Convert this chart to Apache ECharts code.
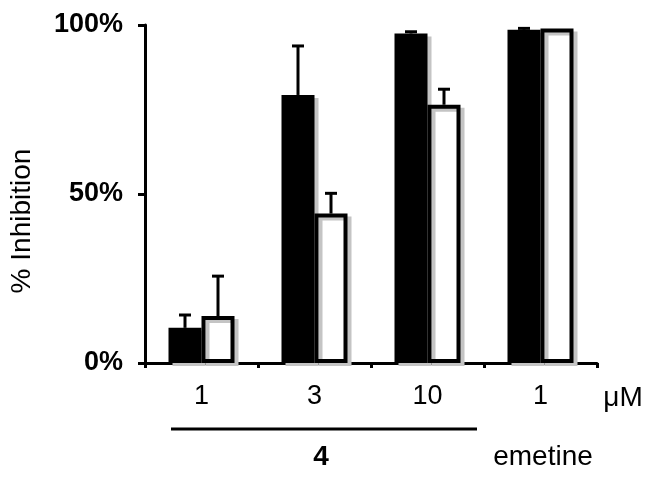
<!DOCTYPE html>
<html>
<head>
<meta charset="utf-8">
<script src="https://cdn.jsdelivr.net/npm/echarts@6/dist/echarts.min.js"></script>
<style>
html, body { margin: 0; padding: 0; background: #fff; }
#main { width: 651px; height: 477px; }
</style>
</head>
<body>
<div id="main"></div>
<script>
// inhibition chart, compound 4 vs emetine
var categories = ['1', '3', '10', '1']
var blackMean = [10.4, 79.3, 97.5, 98.6]
var blackErr = [3.8, 14.5, 0.5, 0.4]
var whiteMean = [13.9, 44.2, 76.4, 99.0]
var whiteErr = [11.8, 6.0, 4.6, 0]
var yTicks = [0, 50, 100]

var BAR_W = 33
var FONT = '"Liberation Sans", Arial'

function errData(mean, err) {
    return mean.map(function (m, i) { return [i, m + err[i], m, err[i]] })
}

function errRender(offset) {
    return function (params, api) {
        if (api.value(3) <= 0) return
        var top = api.coord([api.value(0), api.value(1)])
        var base = api.coord([api.value(0), api.value(2)])
        var x = top[0] + offset
        var style = { stroke: '#000', lineWidth: 3 }
        return {
            type: 'group',
            children: [
                { type: 'line', shape: { x1: x, y1: base[1], x2: x, y2: top[1] }, style: style },
                { type: 'line', shape: { x1: x - 6, y1: top[1], x2: x + 6, y2: top[1] }, style: style }
            ]
        }
    }
}

var myChart = echarts.init(document.getElementById('main'))
var shadow = { shadowColor: '#c4c4c4', shadowOffsetX: 4, shadowOffsetY: 3, shadowBlur: 0 }
var option = {
    animation: false,
    backgroundColor: '#fff',
    grid: {
        left: 145,
        right: 54,
        top: 25,
        bottom: 114
    },
    xAxis: {
        type: 'category',
        data: categories,
        axisLine: { lineStyle: { color: '#000', width: 3 } },
        axisTick: { show: true, length: 5, lineStyle: { color: '#000', width: 3 } },
        axisLabel: {
            color: '#000',
            fontSize: 27,
            fontFamily: FONT,
            margin: 20
        }
    },
    yAxis: {
        type: 'value',
        min: 0,
        max: 100,
        interval: 50,
        splitLine: { show: false },
        axisLine: { show: true, lineStyle: { color: '#000', width: 3 } },
        axisTick: { show: true, length: 7, lineStyle: { color: '#000', width: 3 } },
        axisLabel: {
            color: '#000',
            fontSize: 27,
            fontWeight: 'bold',
            fontFamily: FONT,
            margin: 22,
            formatter: function (v) { return yTicks.indexOf(v) >= 0 ? v + '%' : '' }
        }
    },
    graphic: [
        {
            type: 'text', x: 22, y: 221, rotation: Math.PI / 2,
            style: { text: '% Inhibition', fill: '#000', font: '28px ' + FONT, align: 'center', verticalAlign: 'middle' }
        },
        {
            type: 'line',
            shape: { x1: 171, y1: 429, x2: 477, y2: 429 },
            style: { stroke: '#000', lineWidth: 3 }
        },
        {
            type: 'text', x: 321, y: 457,
            style: { text: '4', fill: '#000', font: 'bold 28px ' + FONT, align: 'center', verticalAlign: 'middle' }
        },
        {
            type: 'text', x: 543, y: 457,
            style: { text: 'emetine', fill: '#000', font: '28px ' + FONT, align: 'center', verticalAlign: 'middle' }
        },
        {
            type: 'text', x: 623, y: 398,
            style: { text: 'μM', fill: '#000', font: '28px ' + FONT, align: 'center', verticalAlign: 'middle' }
        }
    ],
    series: [
        {
            type: 'bar',
            data: blackMean,
            barWidth: BAR_W,
            barGap: '0%',
            itemStyle: Object.assign({ color: '#000', borderColor: '#000', borderWidth: 0 }, shadow),
            z: 2
        },
        {
            type: 'bar',
            data: whiteMean,
            barWidth: BAR_W,
            barGap: '0%',
            itemStyle: Object.assign({ color: '#fff', borderColor: '#000', borderWidth: 4 }, shadow),
            z: 2
        },
        {
            type: 'custom',
            data: errData(blackMean, blackErr),
            renderItem: errRender(-BAR_W / 2),
            z: 3
        },
        {
            type: 'custom',
            data: errData(whiteMean, whiteErr),
            renderItem: errRender(BAR_W / 2),
            z: 3
        }
    ]
}
myChart.setOption(option)
</script>
</body>
</html>
